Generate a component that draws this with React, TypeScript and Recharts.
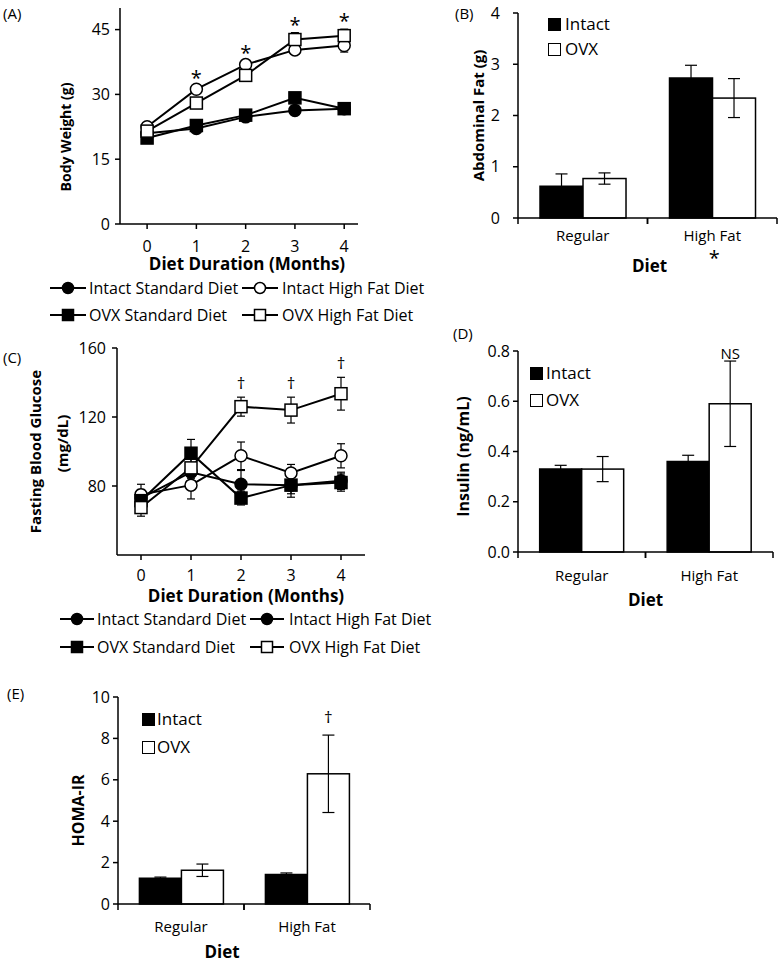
import React from 'react';
import { LineChart, Line, BarChart, Bar, XAxis, YAxis, ErrorBar, LabelList } from 'recharts';

const FONT = '"Open Sans", Lato, sans-serif';
const INK = '#000';

// (A) body weight, g
const months = [0, 1, 2, 3, 4];
const bwIntactStd = [21.0, 22.1, 24.8, 26.3, 26.7];
const bwIntactStdErr = [0.5, 0.5, 0.6, 0.6, 0.7];
const bwIntactHF = [22.5, 31.2, 36.9, 40.3, 41.3];
const bwIntactHFErr = [0.6, 0.8, 0.9, 1.0, 1.5];
const bwOvxStd = [19.9, 22.8, 25.2, 29.2, 26.7];
const bwOvxStdErr = [0.5, 0.6, 0.6, 0.8, 0.8];
const bwOvxHF = [21.5, 28.0, 34.4, 42.7, 43.6];
const bwOvxHFErr = [0.6, 0.9, 1.0, 1.6, 1.5];
const bwMarks = ['', '*', '*', '*', '*'];
const bwTicks = [0, 15, 30, 45];

// (C) fasting blood glucose, mg/dL
const gluIntactStd = [73, 88, 81, 80.5, 83];
const gluIntactStdErr = [5, 5, 8, 5, 5];
const gluIntactHF = [75, 80.5, 97.5, 87.5, 97.5];
const gluIntactHFErr = [6, 8, 8, 5, 7];
const gluOvxStd = [71.5, 99, 73, 80.5, 82];
const gluOvxStdErr = [5, 8, 4, 7, 5];
const gluOvxHF = [67.5, 90.5, 126, 124, 133.5];
const gluOvxHFErr = [5, 6, 5.5, 7.5, 9.5];
const gluMarks = ['', '', '†', '†', '†'];
const gluTicks = [80, 120, 160];

// bar panels (B, D, E)
const diets = ['Regular', 'High Fat'];
const fatIntact = [0.62, 2.73];
const fatIntactErr = [0.24, 0.25];
const fatOvx = [0.77, 2.34];
const fatOvxErr = [0.11, 0.38];
const fatNotesBelow = ['', '*'];
const fatTicks = [0, 1, 2, 3, 4];

const insIntact = [0.33, 0.36];
const insIntactErr = [0.015, 0.025];
const insOvx = [0.33, 0.59];
const insOvxErr = [0.05, 0.17];
const insNotes = ['', 'NS'];
const insTicks = [0, 0.2, 0.4, 0.6, 0.8];

const homaIntact = [1.25, 1.42];
const homaIntactErr = [0.05, 0.08];
const homaOvx = [1.63, 6.29];
const homaOvxErr = [0.3, 1.87];
const homaNotes = ['', '†'];
const homaTicks = [0, 2, 4, 6, 8, 10];

const lineLabels = ['Intact Standard Diet', 'Intact High Fat Diet', 'OVX Standard Diet', 'OVX High Fat Diet'];

const makeLineRows = (
  is: number[], isE: number[], ih: number[], ihE: number[],
  os: number[], osE: number[], oh: number[], ohE: number[], marks: string[],
) =>
  months.map((m, i) => ({
    month: m,
    is: is[i], isE: isE[i], ih: ih[i], ihE: ihE[i],
    os: os[i], osE: osE[i], oh: oh[i], ohE: ohE[i],
    markY: marks[i] ? Math.max(ih[i] + ihE[i], oh[i] + ohE[i]) : null,
    mark: marks[i],
  }));

const makeBarRows = (a: number[], aE: number[], b: number[], bE: number[], notes: string[]) =>
  diets.map((d, i) => ({ diet: d, intact: a[i], intactE: aE[i], ovx: b[i], ovxE: bE[i], note: notes[i] }));

const bwRows = makeLineRows(bwIntactStd, bwIntactStdErr, bwIntactHF, bwIntactHFErr, bwOvxStd, bwOvxStdErr, bwOvxHF, bwOvxHFErr, bwMarks);
const gluRows = makeLineRows(gluIntactStd, gluIntactStdErr, gluIntactHF, gluIntactHFErr, gluOvxStd, gluOvxStdErr, gluOvxHF, gluOvxHFErr, gluMarks);
const fatRows = makeBarRows(fatIntact, fatIntactErr, fatOvx, fatOvxErr, ['', '']);
const insRows = makeBarRows(insIntact, insIntactErr, insOvx, insOvxErr, insNotes);
const homaRows = makeBarRows(homaIntact, homaIntactErr, homaOvx, homaOvxErr, homaNotes);

type Kind = 'circle' | 'square';
const trendSeries: { key: string; kind: Kind; filled: boolean }[] = [
  { key: 'is', kind: 'circle', filled: true },
  { key: 'ih', kind: 'circle', filled: false },
  { key: 'os', kind: 'square', filled: true },
  { key: 'oh', kind: 'square', filled: false },
];

const markerShape = (kind: Kind, filled: boolean, cx: number, cy: number, size: number, key?: any) => {
  const fill = filled ? INK : '#fff';
  if (kind === 'circle') {
    return <circle key={key} cx={cx} cy={cy} r={size / 2} fill={fill} stroke={INK} strokeWidth={1.5} />;
  }
  return <rect key={key} x={cx - size / 2} y={cy - size / 2} width={size} height={size} fill={fill} stroke={INK} strokeWidth={1.5} />;
};

const dot = (kind: Kind, filled: boolean) => (p: any) => {
  if (p.cx == null || p.cy == null) return <g key={p.index} />;
  return markerShape(kind, filled, p.cx, p.cy, 12, p.index);
};

const markLabel = (lift: number, size: number) => (p: any) => {
  const x = p.x ?? p.viewBox?.x;
  const y = p.y ?? p.viewBox?.y;
  if (!p.value || y == null || Number.isNaN(y)) return null;
  return (
    <text x={x} y={y - lift} textAnchor="middle" fontSize={size} fill={INK}>{p.value}</text>
  );
};

const xTitle = (text: string, dy: number, dx = 0) => (p: any) => {
  const vb = p.viewBox || {};
  return (
    <text x={vb.x + vb.width / 2 + dx} y={vb.y + dy} textAnchor="middle" fontSize={17} fontWeight={700} fill={INK}>
      {text}
    </text>
  );
};

type TitleLine = { text: string; dx: number; dy: number; size: number };

const yTitle = (lines: TitleLine[]) => (p: any) => {
  const vb = p.viewBox || {};
  const ax = vb.x + vb.width;
  const mid = vb.y + vb.height / 2;
  return (
    <g>
      {lines.map((l) => {
        const cx = ax + l.dx;
        const cy = mid + l.dy;
        return (
          <text key={l.text} x={cx} y={cy} transform={`rotate(-90, ${cx}, ${cy})`} textAnchor="middle"
            dominantBaseline="central" fontSize={l.size} fontWeight={700} fill={INK}>
            {l.text}
          </text>
        );
      })}
    </g>
  );
};

const axisStyle = { stroke: INK, strokeWidth: 1.5 };
const tickLineStyle = { stroke: INK, strokeWidth: 1.5 };

type TrendProps = {
  rows: any[];
  width: number;
  height: number;
  margin: any;
  xDomain: number[];
  yDomain: number[];
  yTicks: number[];
  yWidth: number;
  yTickMargin: number;
  xHeight: number;
  xTickMargin: number;
  tickSize: number;
  xTitleDy: number;
  xTitleDx: number;
  yLines: TitleLine[];
  markLift: number;
  markSize: number;
};

function TrendChart(p: TrendProps) {
  const tick = { fill: INK, fontSize: p.tickSize };
  return (
    <LineChart width={p.width} height={p.height} data={p.rows} margin={p.margin}>
      <XAxis dataKey="month" type="number" domain={p.xDomain} ticks={months} allowDataOverflow
        height={p.xHeight} tickSize={5} tickMargin={p.xTickMargin} tick={tick}
        axisLine={axisStyle} tickLine={tickLineStyle}
        label={xTitle('Diet Duration (Months)', p.xTitleDy, p.xTitleDx)} />
      <YAxis type="number" domain={p.yDomain} ticks={p.yTicks} width={p.yWidth}
        tickSize={5} tickMargin={p.yTickMargin} tick={tick}
        axisLine={axisStyle} tickLine={tickLineStyle}
        label={yTitle(p.yLines)} />
      {trendSeries.map((s) => (
        <Line key={s.key} type="linear" dataKey={s.key} stroke={INK} strokeWidth={2}
          dot={dot(s.kind, s.filled)} activeDot={false} isAnimationActive={false}>
          <ErrorBar dataKey={s.key + 'E'} width={4} stroke={INK} strokeWidth={1.2} />
        </Line>
      ))}
      <Line dataKey="markY" stroke="none" dot={false} activeDot={false} isAnimationActive={false}>
        <LabelList dataKey="mark" content={markLabel(p.markLift, p.markSize)} />
      </Line>
    </LineChart>
  );
}

const dietTick = (labelDy: number, below: string[] | null, belowDy: number) => (p: any) => {
  const { x, y, payload } = p;
  const axisY = y - 5;
  const half = payload?.offset ?? p.width / diets.length / 2;
  const i = diets.indexOf(payload.value);
  return (
    <g>
      <line x1={x - half} y1={axisY} x2={x - half} y2={axisY + 6} stroke={INK} strokeWidth={1.5} />
      <line x1={x + half} y1={axisY} x2={x + half} y2={axisY + 6} stroke={INK} strokeWidth={1.5} />
      <text x={x} y={axisY + labelDy} textAnchor="middle" fontSize={15} fill={INK}>{payload.value}</text>
      {below && below[i] ? (
        <text x={x + 2} y={axisY + belowDy} textAnchor="middle" fontSize={20} fill={INK}>{below[i]}</text>
      ) : null}
    </g>
  );
};

const ovxShape = (lift: number, size: number) => (p: any) => {
  const { x, y, width, height, payload } = p;
  const perUnit = payload.ovx ? height / payload.ovx : 0;
  const errTop = y - payload.ovxE * perUnit;
  return (
    <g>
      <rect x={x} y={y} width={width} height={height} fill="#fff" stroke={INK} strokeWidth={1.5} />
      {payload.note ? (
        <text x={x + width / 2} y={errTop - lift} textAnchor="middle" fontSize={size} fill={INK}>{payload.note}</text>
      ) : null}
    </g>
  );
};

type BarProps = {
  rows: any[];
  width: number;
  height: number;
  margin: any;
  yDomain: number[];
  yTicks: number[];
  yFmt?: (v: number) => string;
  yWidth: number;
  yTickMargin: number;
  labelDy: number;
  below: string[] | null;
  belowDy: number;
  titleDx: number;
  yLines: TitleLine[];
  noteLift: number;
  noteSize: number;
};

function DietBars(p: BarProps) {
  return (
    <BarChart width={p.width} height={p.height} data={p.rows} margin={p.margin} barCategoryGap="17%" barGap={0}>
      <XAxis dataKey="diet" height={50} tickSize={5} tickMargin={0} tickLine={false} axisLine={axisStyle}
        interval={0} tick={dietTick(p.labelDy, p.below, p.belowDy)} label={xTitle('Diet', 54, p.titleDx)} />
      <YAxis type="number" domain={p.yDomain} ticks={p.yTicks} width={p.yWidth}
        tickSize={5} tickMargin={p.yTickMargin} tick={{ fill: INK, fontSize: 16 }} tickFormatter={p.yFmt}
        axisLine={axisStyle} tickLine={tickLineStyle} label={yTitle(p.yLines)} />
      <Bar dataKey="intact" fill={INK} stroke={INK} strokeWidth={1.5} isAnimationActive={false}>
        <ErrorBar dataKey="intactE" width={6} stroke={INK} strokeWidth={1.2} />
      </Bar>
      <Bar dataKey="ovx" fill="#fff" stroke={INK} strokeWidth={1.5} isAnimationActive={false}
        shape={ovxShape(p.noteLift, p.noteSize)}>
        <ErrorBar dataKey="ovxE" width={6} stroke={INK} strokeWidth={1.2} />
      </Bar>
    </BarChart>
  );
}

const abs = (left: number, top: number): React.CSSProperties => ({ position: 'absolute', left, top });

function LineKey({ left, textLeft, cy, kind, filled, label, w }: any) {
  return (
    <>
      <svg style={abs(left, cy - 8)} width={w} height={16}>
        <line x1={0} y1={8} x2={w} y2={8} stroke={INK} strokeWidth={2} />
        {markerShape(kind, filled, w / 2, 8, 11)}
      </svg>
      <div style={{ ...abs(textLeft, cy - 11), lineHeight: '22px', fontSize: 16, whiteSpace: 'nowrap' }}>{label}</div>
    </>
  );
}

function LineKeys({ rows, col1, col2, text1, text2, w, kinds }: any) {
  return (
    <>
      {kinds.map((k: any, i: number) => (
        <LineKey key={i} left={i % 2 ? col2 : col1} textLeft={i % 2 ? text2 : text1} cy={rows[Math.floor(i / 2)]}
          kind={k.kind} filled={k.filled} label={lineLabels[i]} w={w} />
      ))}
    </>
  );
}

function BarKeys({ left, textLeft, rows }: any) {
  const names = ['Intact', 'OVX'];
  return (
    <>
      {names.map((n, i) => (
        <React.Fragment key={n}>
          <div style={{ ...abs(left, rows[i] - 6.5), width: 13, height: 13, boxSizing: 'border-box',
            background: i ? '#fff' : INK, border: `1.5px solid ${INK}` }} />
          <div style={{ ...abs(textLeft, rows[i] - 12), lineHeight: '24px', fontSize: 17 }}>{n}</div>
        </React.Fragment>
      ))}
    </>
  );
}

const PanelTag = ({ left, cy, text }: any) => (
  <div style={{ ...abs(left, cy - 11), lineHeight: '22px', fontSize: 15 }}>{text}</div>
);

export default function App() {
  const fmt1 = (v: number) => v.toFixed(1);
  return (
    <div style={{ position: 'absolute', left: 0, top: 0, width: 782, height: 965, background: '#fff',
      fontFamily: FONT, color: INK, overflow: 'hidden' }}>
      {/* (A) */}
      <div style={abs(0, 0)}>
        <TrendChart rows={bwRows} width={400} height={300} margin={{ top: 8, right: 42, left: 70, bottom: 16 }}
          xDomain={[-0.55, 4.28]} yDomain={[0, 50]} yTicks={bwTicks} yWidth={50} yTickMargin={5}
          xHeight={60} xTickMargin={12} tickSize={16} xTitleDy={46} xTitleDx={8}
          yLines={[{ text: 'Body Weight (g)', dx: -55, dy: 21, size: 14 }]} markLift={1} markSize={20} />
      </div>
      <PanelTag left={3} cy={13} text="(A)" />
      <LineKeys rows={[288, 315]} col1={50} col2={242} text1={89} text2={282} w={36}
        kinds={[{ kind: 'circle', filled: true }, { kind: 'circle', filled: false },
          { kind: 'square', filled: true }, { kind: 'square', filled: false }]} />

      {/* (B) */}
      <div style={abs(400, 0)}>
        <DietBars rows={fatRows} width={382} height={300} margin={{ top: 13, right: 5, left: 78, bottom: 32 }}
          yDomain={[0, 4]} yTicks={fatTicks} yWidth={40} yTickMargin={13}
          labelDy={23} below={fatNotesBelow} belowDy={47} titleDx={2}
          yLines={[{ text: 'Abdominal Fat (g)', dx: -40, dy: 0, size: 15 }]} noteLift={1} noteSize={15} />
      </div>
      <PanelTag left={455} cy={13} text="(B)" />
      <BarKeys left={548} textLeft={565} rows={[24, 49]} />

      {/* (C) */}
      <div style={abs(0, 330)}>
        <TrendChart rows={gluRows} width={400} height={280} margin={{ top: 18, right: 35, left: 67, bottom: 10 }}
          xDomain={[-0.48, 4.48]} yDomain={[40, 160]} yTicks={gluTicks} yWidth={50} yTickMargin={6}
          xHeight={45} xTickMargin={10} tickSize={16} xTitleDy={47} xTitleDx={5}
          yLines={[{ text: 'Fasting Blood Glucose', dx: -82, dy: 0, size: 15 },
            { text: '(mg/dL)', dx: -55, dy: -8, size: 15 }]}
          markLift={8} markSize={17} />
      </div>
      <PanelTag left={3} cy={357} text="(C)" />
      <LineKeys rows={[619, 647]} col1={60} col2={250} text1={97} text2={289} w={34}
        kinds={[{ kind: 'circle', filled: true }, { kind: 'circle', filled: true },
          { kind: 'square', filled: true }, { kind: 'square', filled: false }]} />

      {/* (D) */}
      <div style={abs(400, 300)}>
        <DietBars rows={insRows} width={382} height={330} margin={{ top: 51, right: 9, left: 73, bottom: 28 }}
          yDomain={[0, 0.8]} yTicks={insTicks} yFmt={fmt1} yWidth={45} yTickMargin={3}
          labelDy={29} below={null} belowDy={0} titleDx={0}
          yLines={[{ text: 'Insulin (ng/mL)', dx: -55, dy: 5, size: 16 }]} noteLift={2} noteSize={15} />
      </div>
      <PanelTag left={453} cy={333} text="(D)" />
      <BarKeys left={530} textLeft={546} rows={[373, 400]} />

      {/* (E) */}
      <div style={abs(0, 660)}>
        <DietBars rows={homaRows} width={400} height={305} margin={{ top: 37, right: 30, left: 78, bottom: 11 }}
          yDomain={[0, 10]} yTicks={homaTicks} yWidth={40} yTickMargin={3}
          labelDy={28} below={null} belowDy={0} titleDx={-22}
          yLines={[{ text: 'HOMA-IR', dx: -40, dy: 10, size: 16 }]} noteLift={12} noteSize={17} />
      </div>
      <PanelTag left={7} cy={693} text="(E)" />
      <BarKeys left={142} textLeft={157} rows={[719, 747]} />
    </div>
  );
}
